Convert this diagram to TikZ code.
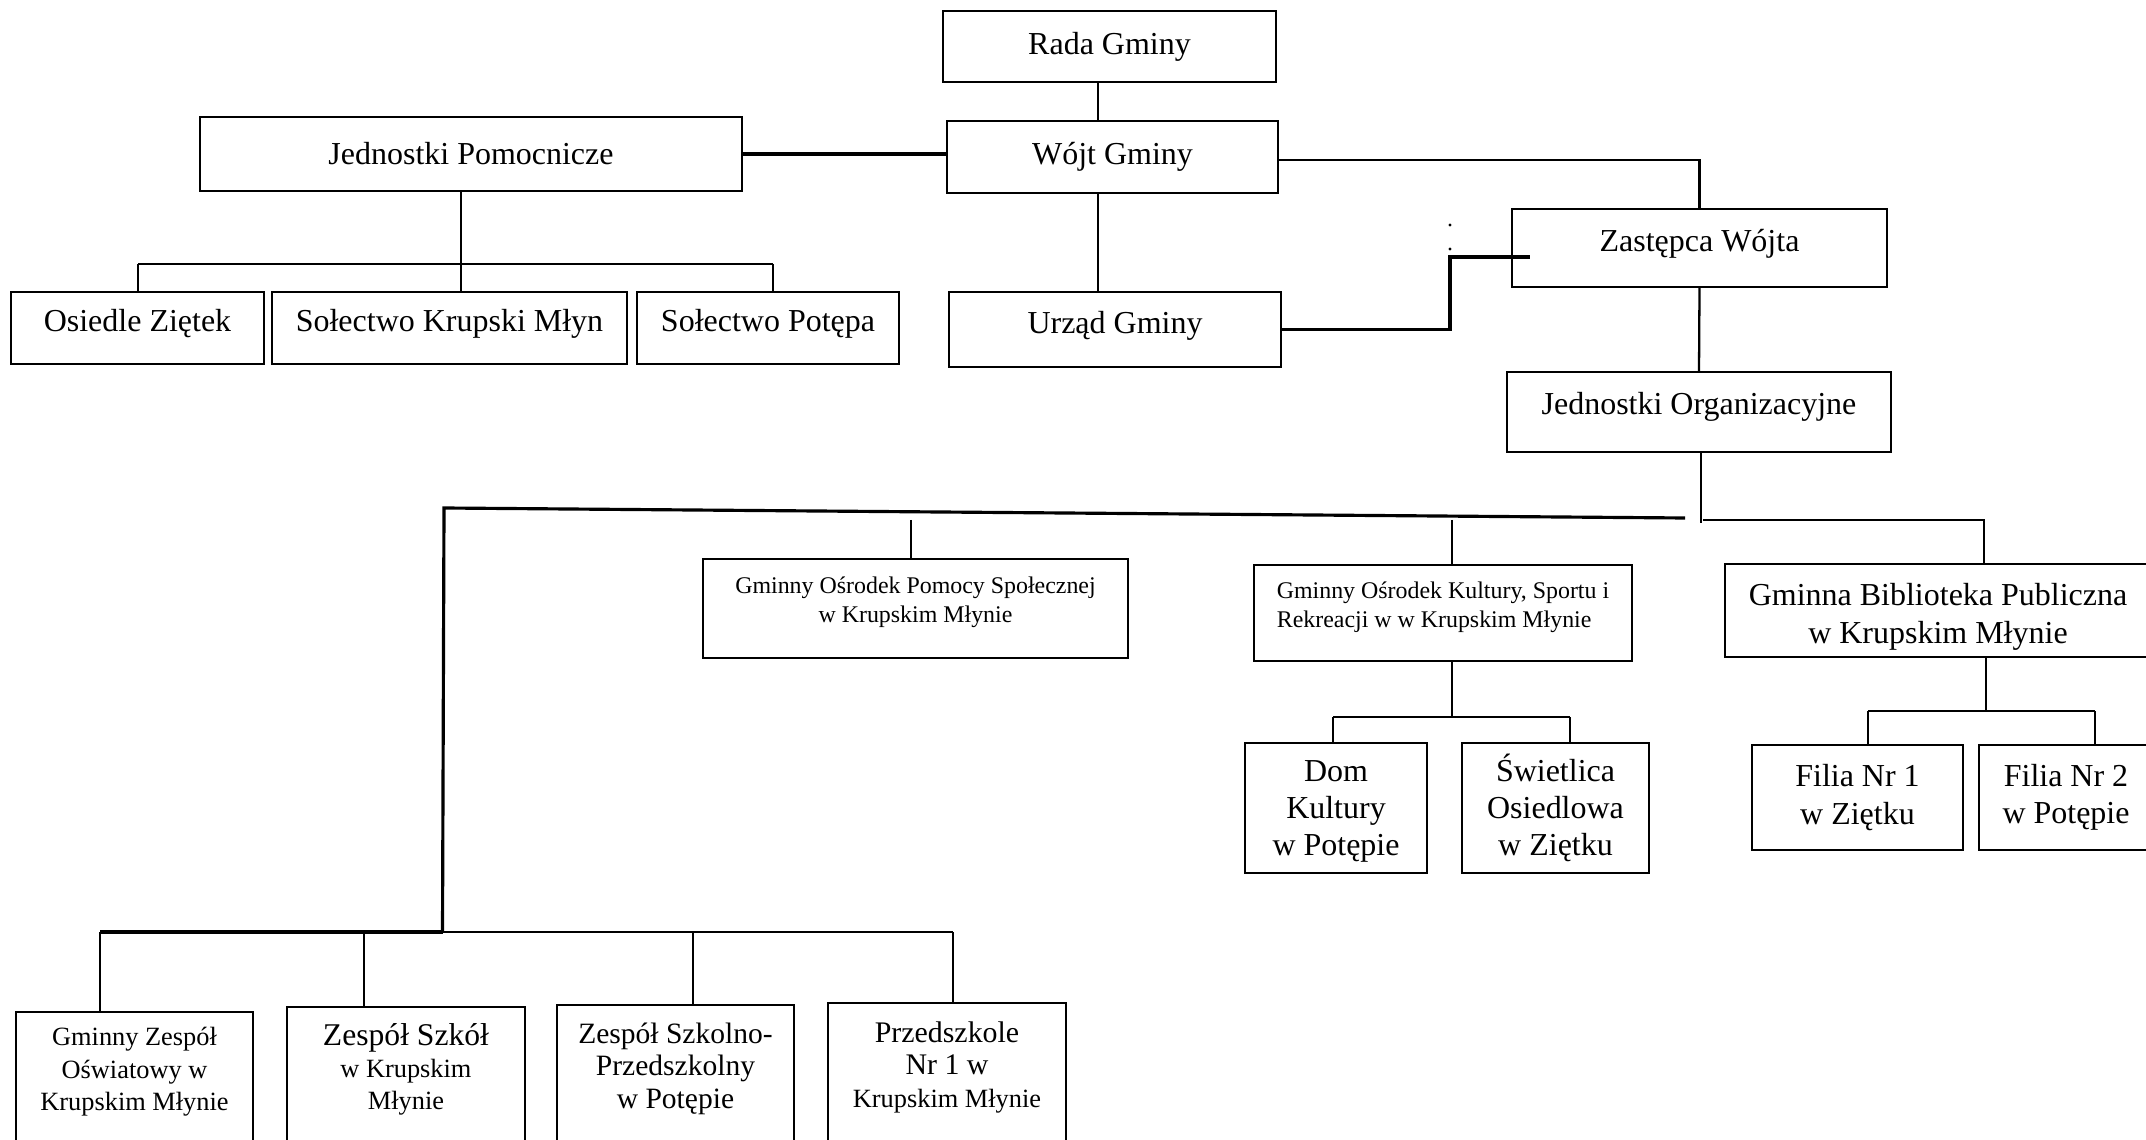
\documentclass[tikz,border=0pt]{standalone}
\usepackage{fontspec}
\setmainfont{Liberation Serif}

\tikzstyle{box}=[draw, rectangle, line width=0.5pt, inner sep=0pt, align=center, font=\fontsize{9.1}{10.6}\selectfont]
\tikzstyle{small}=[font=\fontsize{6.8}{8.1}\selectfont]
\tikzstyle{school}=[font=\fontsize{7.5}{9.2}\selectfont, text depth=9.7pt]
\tikzstyle{link}=[line width=0.65pt]
\tikzstyle{heavy}=[line width=0.9pt]

\begin{document}
\begin{tikzpicture}[x=0.1mm, y=-0.1mm]

\useasboundingbox (0,0) rectangle (2146,1140);
\clip (0,0) rectangle (2146,1140);

% top
\node[box, minimum width=3.33cm, minimum height=0.71cm] (rada) at (1109.5,46.5) {Rada Gminy};
\node[box, minimum width=3.31cm, minimum height=0.72cm] (wojt) at (1112.5,157) {Wójt Gminy};
\node[box, minimum width=5.42cm, minimum height=0.74cm] (jp) at (471,154) {Jednostki Pomocnicze};
\node[box, minimum width=3.32cm, minimum height=0.75cm, text height=6pt, text depth=4pt] (urzad) at (1115,329.5) {Urząd Gminy};
\node[box, minimum width=3.75cm, minimum height=0.78cm, text height=6.1pt, text depth=3.9pt] (zast) at (1699.5,248) {Zastępca Wójta};
\node[box, minimum width=3.84cm, minimum height=0.80cm, text height=5.6pt, text depth=4.4pt] (jo) at (1699,412) {Jednostki Organizacyjne};

\node[box, minimum width=2.53cm, minimum height=0.72cm, text height=6pt, text depth=4pt] (osiedle) at (137.5,328) {Osiedle Ziętek};
\node[box, minimum width=3.55cm, minimum height=0.72cm, text height=6pt, text depth=4pt] (skm) at (449.5,328) {Sołectwo Krupski Młyn};
\node[box, minimum width=2.62cm, minimum height=0.72cm, text height=6pt, text depth=4pt] (potepa) at (768,328) {Sołectwo Potępa};

% units
\node[box, small, minimum width=4.25cm, minimum height=0.99cm, text depth=5pt] (gops) at (915.5,608.5) {Gminny Ośrodek Pomocy Społecznej\\w Krupskim Młynie};
\node[box, small, align=left, minimum width=3.78cm, minimum height=0.96cm, text depth=4.6pt] (goksir) at (1443,613) {Gminny Ośrodek Kultury, Sportu i\\Rekreacji w w Krupskim Młynie};
\node[box, minimum width=4.26cm, minimum height=0.93cm, text height=20.5pt] (gbp) at (1938,610.5) {Gminna Biblioteka Publiczna\\w Krupskim Młynie};

\node[box, minimum width=1.82cm, minimum height=1.30cm, text height=29.3pt, text depth=2pt] (dom) at (1336,808) {Dom\\Kultury\\w Potępie};
\node[box, minimum width=1.87cm, minimum height=1.30cm, text height=29.3pt, text depth=2pt] (swietlica) at (1555.5,808) {Świetlica\\Osiedlowa\\w Ziętku};
\node[box, minimum width=2.11cm, minimum height=1.05cm] (filia1) at (1857.5,797.5) {Filia Nr 1\\w Ziętku};
\node[box, minimum width=1.74cm, minimum height=1.05cm] (filia2) at (2066,797.5) {Filia Nr 2\\w Potępie};

% schools
\node[box, school, minimum width=2.37cm, minimum height=1.48cm] (gzo) at (134.5,1086) {Gminny Zespół\\Oświatowy w\\Krupskim Młynie};
\node[box, school, minimum width=2.38cm, minimum height=1.53cm] (zs) at (406,1083.5) {{\fontsize{9}{9.2}\selectfont Zespół Szkół}\\w Krupskim\\Młynie};
\node[box, school, font=\fontsize{8.4}{9.2}\selectfont, minimum width=2.37cm, minimum height=1.55cm] (zsp) at (675.5,1082.5) {Zespół Szkolno-\\Przedszkolny\\w Potępie};
\node[box, school, minimum width=2.38cm, minimum height=1.57cm] (przed) at (947,1081.5) {{\fontsize{8.5}{9.2}\selectfont Przedszkole}\\{\fontsize{8.5}{9.2}\selectfont Nr 1 w}\\Krupskim Młynie};

% lines
\coordinate (ax) at (1098,0);
\draw[link] (rada.south -| ax) -- (wojt.north -| ax);
\draw[link] (wojt.south -| ax) -- (urzad.north -| ax);
\draw[heavy] (jp.east) -- (jp.east -| wojt.west);
\coordinate (wz) at (1702,160);
\draw[link] (wojt.east |- wz) -| (zast.north);

\coordinate (uz) at (1450,257);
\coordinate (uzend) at (1530,257);
\draw[heavy] (urzad.east) -| (uz) -- (uzend);
\fill (1450,225) circle (0.45pt);
\fill (1450,249) circle (0.45pt);

\draw[link] (zast.south) -- (jo.north);

\coordinate (pb) at (461,264);
\coordinate (pb1) at (138,264);
\coordinate (pb2) at (773,264);
\draw[link] (jp.south -| pb) -- (skm.north -| pb);
\draw[link] (pb1) -- (pb2);
\draw[link] (pb1) -- (osiedle.north -| pb1);
\draw[link] (pb2) -- (potepa.north -| pb2);

% bus under jednostki organizacyjne
\coordinate (jb) at (1701,523);
\coordinate (bl) at (444,508);
\coordinate (br) at (1685,518);
\coordinate (rb1) at (1703,520);
\coordinate (rb2) at (1984,520);
\coordinate (bb) at (442.5,932);
\draw[link] (jo.south -| jb) -- (jb);
\draw[heavy] (br) -- (bl) -- (bb);
\draw[link] (rb1) -- (rb2) -- (gbp.north -| rb2);

\coordinate (g1) at (911,520);
\coordinate (g2) at (1452,520);
\draw[link] (g1) -- (gops.north -| g1);
\draw[link] (g2) -- (goksir.north -| g2);

\coordinate (kb) at (1452,717);
\coordinate (kb1) at (1333,717);
\coordinate (kb2) at (1570,717);
\draw[link] (goksir.south -| kb) -- (kb);
\draw[link] (kb1) -- (kb2);
\draw[link] (kb1) -- (dom.north -| kb1);
\draw[link] (kb2) -- (swietlica.north -| kb2);

\coordinate (lb) at (1986,711);
\coordinate (lb1) at (1868,711);
\coordinate (lb2) at (2095,711);
\draw[link] (gbp.south -| lb) -- (lb);
\draw[link] (lb1) -- (lb2);
\draw[link] (lb1) -- (filia1.north -| lb1);
\draw[link] (lb2) -- (filia2.north -| lb2);

\coordinate (sb1) at (100,932);
\coordinate (sb2) at (364,932);
\coordinate (sb3) at (693,932);
\coordinate (sb4) at (953,932);
\draw[heavy] (sb1) -- (bb);
\draw[link] (bb) -- (sb4);
\foreach \n/\d in {gzo/sb1,zs/sb2,zsp/sb3,przed/sb4}
  \draw[link] (\d) -- (\n.north -| \d);

\end{tikzpicture}
\end{document}
